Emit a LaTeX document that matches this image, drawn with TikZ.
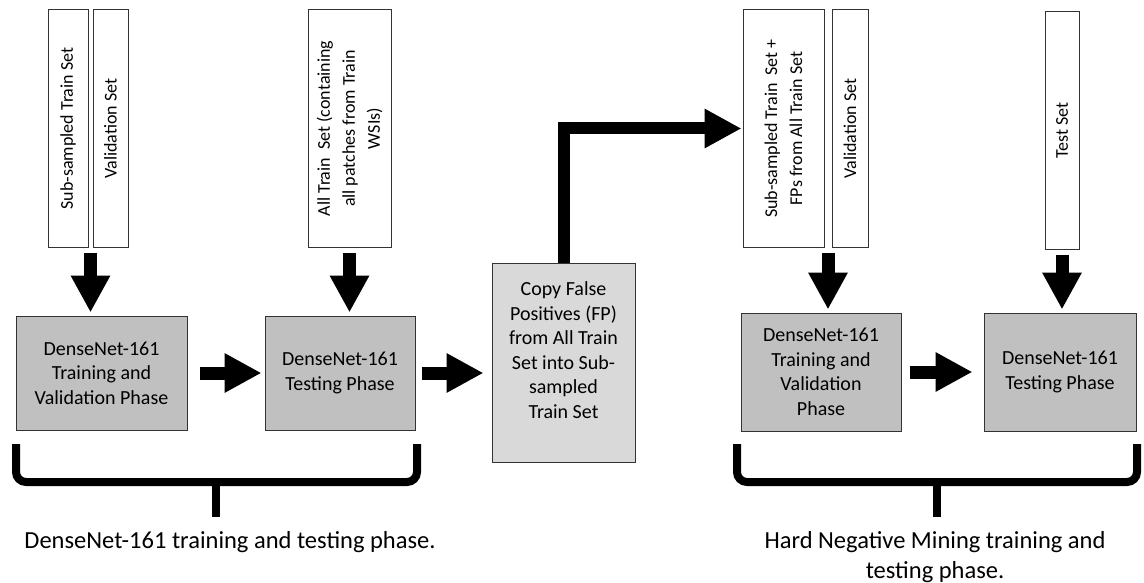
\documentclass[tikz,border=0pt]{standalone}
\usepackage{fontspec}
\setmainfont{Carlito}
\usetikzlibrary{arrows.meta,calc}
\definecolor{boxgray}{RGB}{192,192,192}
\definecolor{copygray}{RGB}{217,217,217}

\begin{document}
\begin{tikzpicture}[x=1pt,y=-1pt,
        setbox/.style={draw=black!80,line width=1pt,inner sep=0pt,rotate=90,align=center,minimum width=237pt,font=\fontsize{18}{25}\selectfont},
        phase/.style={draw=black!80,line width=1pt,fill=boxgray,inner sep=0pt,align=center,font=\fontsize{20}{24.5}\selectfont},
        caption/.style={inner sep=0pt,align=center,font=\fontsize{24.5}{30}\selectfont},
        bigarrow/.style={line width=13pt,line join=miter,-{Triangle[width=37pt,length=37pt]}},
        brace/.style={line width=8pt,rounded corners=10pt}]
            \useasboundingbox (0,0) rectangle (1144,583);
            \node[setbox,minimum height=40pt] (subA) at (68,128.5) {Sub-sampled Train Set};
            \node[setbox,minimum height=35pt] (valA) at (110.5,128.5) {Validation Set};
            \node[setbox,minimum height=83pt] (allA) at (349.5,128.5) {All Train~ Set (containing\\all patches from Train\\WSIs)};
            \node[setbox,minimum height=81pt] (subB) at (783.5,128.5) {Sub-sampled Train~ Set +\\FPs from All Train Set};
            \node[setbox,minimum height=36pt] (valB) at (850,128.5) {Validation Set};
            \node[setbox,minimum height=34pt] (testset) at (1062,130.5) {Test Set};
            \node[phase,minimum width=171pt,minimum height=114pt] (trainA) at (101.5,373) {DenseNet-161\\Training and\\Validation Phase};
            \node[phase,minimum width=150pt,minimum height=114pt] (testA) at (340,373) {DenseNet-161\\Testing Phase};
            \node[phase,fill=copygray,minimum width=143pt,minimum height=199pt] (copyfp) at (563.5,362.5) {Copy False\\Positives (FP)\\from All Train\\Set into Sub-\\sampled\\Train Set\\ \mbox{}};
            \node[phase,minimum width=160pt,minimum height=118pt] (trainB) at (821,372) {DenseNet-161\\Training and\\Validation\\Phase};
            \node[phase,minimum width=152pt,minimum height=118pt] (testB) at (1060,372) {DenseNet-161\\Testing Phase};
            \node[caption] (capA) at (230,542) {DenseNet-161 training and testing phase.};
            \node[caption] (capB) at (935,557) {Hard Negative Mining training and\\testing phase.};
            \coordinate (gapA) at ($(subA.south)!0.5!(valA.north)$);
            \coordinate (gapB) at ($(subB.south)!0.5!(valB.north)$);
            \draw[bigarrow,shorten <=5pt,shorten >=3pt] (gapA |- subA.west) -- (gapA |- trainA.north);
            \draw[bigarrow,shorten <=5pt,shorten >=3pt] (allA.west) -- (allA.west |- testA.north);
            \draw[bigarrow,shorten <=5pt,shorten >=3pt] (gapB |- subB.west) -- (gapB |- trainB.north);
            \draw[bigarrow,shorten <=5pt,shorten >=3pt] (testset.west) -- (testset.west |- testB.north);
            \draw[bigarrow,shorten <=12pt,shorten >=3pt] (trainA) -- (testA);
            \draw[bigarrow,shorten <=6pt,shorten >=8pt] (testA.east) -- (testA.east -| copyfp.west);
            \draw[bigarrow,shorten <=8pt,shorten >=11pt] (trainB) -- (testB);
            \draw[bigarrow,line width=12pt,shorten >=1pt] (copyfp.north) |- (subB.north);
            \draw[brace] (16,444) -- (16,482) -- (417,482) -- (417,444);
            \draw[brace] (216,482) -- (216,517);
            \draw[brace] (737,444) -- (737,482) -- (1137,482) -- (1137,444);
            \draw[brace] (937,482) -- (937,517);
        \end{tikzpicture}
\end{document}
